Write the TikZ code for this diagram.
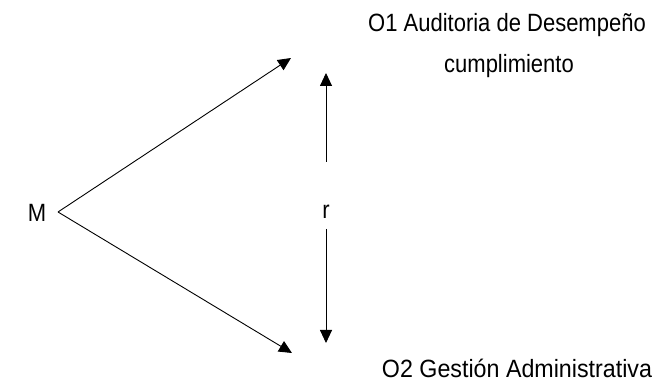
\documentclass[tikz,border=0pt]{standalone}
\usepackage{fontspec}
\setmainfont{Liberation Sans}[FakeStretch=0.88]
\newfontfamily\widerfont{Liberation Sans}[FakeStretch=0.93]
\usetikzlibrary{arrows.meta}
\tikzset{
  lbl/.style={inner sep=0pt, font=\fontsize{25pt}{30pt}\selectfont, text=black},
  arr/.style={line width=0.9pt, -{Triangle[length=13pt,width=12pt]}},
}
\begin{document}
\begin{tikzpicture}[x=1pt,y=1pt]
\useasboundingbox (0,0) rectangle (653,385);
\node[lbl] (m) at (37,172) {M};
\coordinate (apex) at (58,173);
\coordinate (t1) at (291,327);
\coordinate (t2) at (292,32);
\draw[arr] (apex) -- (t1);
\draw[arr] (apex) -- (t2);
\node[lbl] (r) at (326,173) {r};
\coordinate (ra) at (326,223);
\coordinate (rt) at (326,312);
\coordinate (rb) at (326,156);
\coordinate (rbt) at (326,42);
\draw[arr] (ra) -- (rt);
\draw[arr] (rb) -- (rbt);
\node[lbl, anchor=base] (o1) at (507,353.3) {O1 Auditoria de Desempeño};
\node[lbl, anchor=base] (c1) at (509,312) {cumplimiento};
\node[lbl, anchor=base, font=\widerfont\fontsize{25pt}{30pt}\selectfont] (o2) at (517,7) {O2 Gestión Administrativa};
\end{tikzpicture}
\end{document}
